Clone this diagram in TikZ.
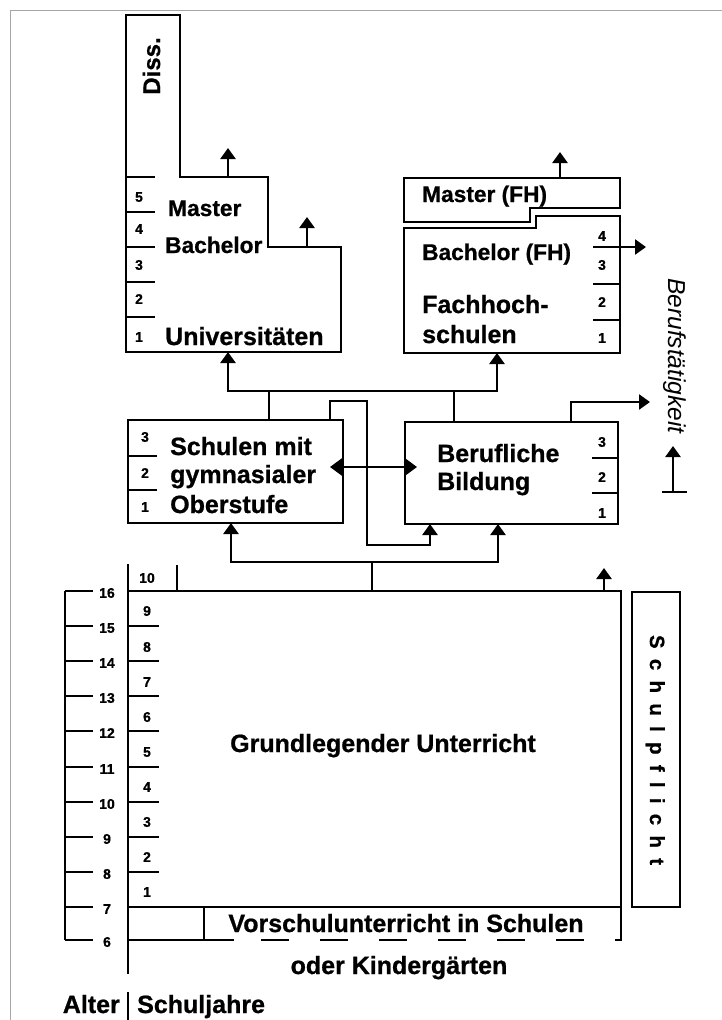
\documentclass[tikz,border=0pt]{standalone}
\usepackage{fontspec}
\setmainfont{Liberation Sans}[BoldFeatures={FakeBold=0.8}]
\newfontfamily\spacedfont{Liberation Sans Bold}[LetterSpace=50,FakeBold=0.8]
\usetikzlibrary{arrows.meta}
\begin{document}
\begin{tikzpicture}[x=1pt,y=-1pt,
  ln/.style={line width=2.5pt},
  arr/.style={ln,-{Triangle[width=15pt,length=11pt]}},
  dbl/.style={ln,{Triangle[width=17pt,length=12pt]}-{Triangle[width=17pt,length=12pt]}},
  lbl/.style={font=\fontsize{25}{29}\selectfont\bfseries, inner sep=0pt, anchor=base west},
  lblsm/.style={font=\fontsize{22.7}{26}\selectfont\bfseries, inner sep=0pt, anchor=base west},
  big/.style={font=\fontsize{25}{29}\selectfont\bfseries, inner sep=0pt, anchor=base},
  num/.style={font=\fontsize{14}{16}\selectfont\bfseries, inner sep=0pt},
  frame/.style={line width=1pt, black!35}
]
\useasboundingbox (0,0) rectangle (722,1020);
\draw[frame] (10,1020) -- (10,10) -- (722,10);

% ---------- Universitaeten ----------
\draw[ln] (126,15) -- (180,15) -- (180,177) -- (268,177) -- (268,247) -- (341,247) -- (341,352) -- (126,352) -- cycle;
\foreach \y in {177,212,247,282,317} \draw[ln] (126,\y) -- (155,\y);
\foreach \n/\y in {5/197,4/229,3/265,2/299,1/337} \node[num] (u\n) at (139,\y) {\n};
\node[font=\fontsize{24}{28}\selectfont\bfseries, inner sep=0pt, anchor=base, rotate=90] (diss) at (160,66) {Diss.};
\node[lblsm] (master) at (168,216) {Master};
\node[lblsm] (bachelor) at (165,253) {Bachelor};
\node[lbl] (uni) at (165,345) {Universitäten};
\coordinate (dissTop) at (228,177);
\coordinate (dissOut) at (228,148);
\coordinate (masTop) at (307,247);
\coordinate (masOut) at (307,217);
\draw[arr] (dissTop) -- (dissOut);
\draw[arr] (masTop) -- (masOut);

% ---------- Fachhochschulen ----------
\draw[ln] (404,178) -- (620,178) -- (620,208) -- (530,208) -- (530,222) -- (404,222) -- cycle;
\draw[ln] (404,228) -- (536,228) -- (536,216) -- (620,216) -- (620,353) -- (404,353) -- cycle;
\foreach \y in {247,284,320} \draw[ln] (593,\y) -- (620,\y);
\foreach \n/\y in {4/236,3/265,2/302,1/338} \node[num] (f\n) at (602,\y) {\n};
\node[lblsm] (fhmaster) at (422,202) {Master (FH)};
\node[lblsm] (fhbachelor) at (422,260) {Bachelor (FH)};
\node[lbl] (fh1) at (422,313) {Fachhoch-};
\node[lbl] (fh2) at (422,343) {schulen};
\coordinate (fhmTop) at (560,178);
\coordinate (fhmOut) at (560,152);
\coordinate (fhbR) at (620,247);
\coordinate (fhbOut) at (646,247);
\draw[arr] (fhmTop) -- (fhmOut);
\draw[arr] (fhbR) -- (fhbOut);

% ---------- Berufstaetigkeit ----------
\node[font=\fontsize{24.5}{28}\selectfont\itshape, inner sep=0pt, anchor=base, rotate=-90] (beruf) at (668,356) {Berufstätigkeit};
\coordinate (tBase) at (673,492);
\coordinate (tTop) at (673,446);
\draw[arr] (tBase) -- (tTop);
\draw[ln] (662,492) -- (687,492);

% ---------- Schulen mit gymnasialer Oberstufe ----------
\draw[ln] (128,420) rectangle (343,523);
\foreach \y in {456,490} \draw[ln] (128,\y) -- (157,\y);
\foreach \n/\y in {3/437,2/473,1/507} \node[num] (s\n) at (145,\y) {\n};
\node[lbl] (sch1) at (170,455) {Schulen mit};
\node[lbl] (sch2) at (170,483) {gymnasialer};
\node[lbl] (sch3) at (170,513) {Oberstufe};

% ---------- Berufliche Bildung ----------
\draw[ln] (405,422) rectangle (618,524);
\foreach \y in {458,493} \draw[ln] (592,\y) -- (618,\y);
\foreach \n/\y in {3/442,2/477,1/513} \node[num] (b\n) at (602,\y) {\n};
\node[lbl] (bb1) at (437,462) {Berufliche};
\node[lbl] (bb2) at (437,490) {Bildung};

% ---------- connectors middle ----------
\coordinate (schTop) at (269,420);
\coordinate (jTop) at (269,391);
\coordinate (bbTop) at (454,422);
\coordinate (bbJ) at (454,391);
\coordinate (uniBot) at (228,352);
\coordinate (fhBot) at (497,353);
\draw[ln] (schTop) -- (jTop);
\draw[ln] (bbTop) -- (bbJ);
\draw[arr] (jTop) -| (uniBot);
\draw[arr] (jTop) -| (fhBot);

\coordinate (schTop2) at (330,420);
\coordinate (bbBot1) at (430,524);
\draw[arr] (schTop2) -- (330,401) -- (367,401) -- (367,545) -- (430,545) -- (bbBot1);

\coordinate (dblL) at (330,467);
\coordinate (dblR) at (417,467);
\draw[dbl] (dblL) -- (dblR);

\coordinate (bbTop2) at (571,422);
\coordinate (bbOut) at (650,402);
\draw[arr] (bbTop2) |- (bbOut);

% ---------- connectors bottom ----------
\coordinate (mainTop) at (372,591);
\coordinate (jBot) at (372,562);
\coordinate (schBot) at (231,523);
\coordinate (bbBot2) at (498,524);
\draw[ln] (mainTop) -- (jBot);
\draw[arr] (jBot) -| (schBot);
\draw[arr] (jBot) -| (bbBot2);
\coordinate (mainTopR) at (604,591);
\coordinate (mainOut) at (604,568);
\draw[arr] (mainTopR) -- (mainOut);

% ---------- Grundlegender Unterricht ----------
\draw[ln] (128,564) -- (128,974);
\draw[ln] (128,591) -- (621,591) -- (621,940) -- (615,940);
\draw[ln] (128,907) -- (621,907);
\draw[ln] (128,940) -- (234,940);
\draw[ln, dash pattern=on 28pt off 31pt] (261,940) -- (585,940);
\draw[ln] (204,907) -- (204,940);
\draw[ln] (177,565) -- (177,591);
\foreach \y in {626,661,696,731,767,802,837,872} \draw[ln] (128,\y) -- (159,\y);
\node[num] (g10) at (147,578) {10};
\foreach \k/\y in {9/611,8/647,7/682,6/717,5/752,4/787,3/822,2/857,1/892} \node[num] (g\k) at (147,\y) {\k};

% age axis
\draw[ln] (65,591) -- (65,940);
\foreach \y in {591,626,661,696,731,767,802,837,872,907,940} \draw[ln] (65,\y) -- (93,\y);
\foreach \a/\y in {16/593,15/628,14/663,13/698,12/733,11/769,10/804,9/839,8/874,7/909,6/942} \node[num] (a\a) at (107,\y) {\a};

\node[big] (grund) at (383,752) {Grundlegender Unterricht};
\node[big] (vor1) at (406,932) {Vorschulunterricht in Schulen};
\node[big] (vor2) at (399,974) {oder Kindergärten};

% Schulpflicht
\draw[ln] (632,592) rectangle (680,907);
\node[font=\fontsize{20.5}{24}\spacedfont, inner sep=0pt, anchor=base, rotate=-90] (pflicht) at (650,750) {Schulpflicht};

% legend
\node[font=\fontsize{25}{29}\selectfont\bfseries, inner sep=0pt, anchor=base east] (alter) at (120,1013) {Alter};
\draw[line width=2pt] (128,992) -- (128,1020);
\node[font=\fontsize{25}{29}\selectfont\bfseries, inner sep=0pt, anchor=base west] (sjahre) at (137,1013) {Schuljahre};
\end{tikzpicture}
\end{document}
